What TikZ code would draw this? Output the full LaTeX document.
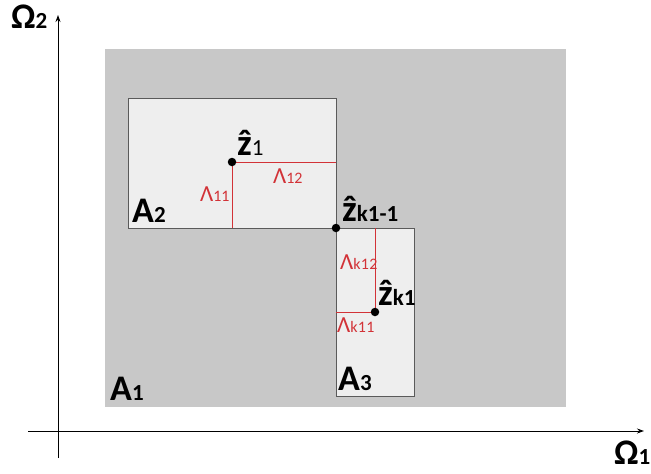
\documentclass[tikz,border=0pt]{standalone}
\usepackage{fontspec}
\setmainfont{Carlito}
\usetikzlibrary{arrows.meta}
\definecolor{bgray}{RGB}{200,200,200}
\definecolor{lgray}{RGB}{238,238,238}
\definecolor{edgec}{RGB}{90,90,90}
\definecolor{lred}{RGB}{210,50,55}
\tikzset{
  axis/.style={line width=0.9pt,black,-{Stealth[length=7pt,width=5pt]}},
  region/.style={draw=edgec,line width=0.7pt,fill=lgray},
  redline/.style={draw=lred,line width=0.8pt},
  dotpt/.style={circle,fill=black,inner sep=0pt,minimum size=8.5pt},
  biglab/.style={anchor=base west,inner sep=0pt,font=\fontsize{36}{38}\selectfont\bfseries},
  zlab/.style={anchor=base west,inner sep=0pt,font=\fontsize{37}{38}\selectfont\bfseries},
  lamlab/.style={anchor=base west,inner sep=0pt,text=lred,font=\fontsize{23}{24}\selectfont},
}
\newcommand{\sbig}[1]{{\fontsize{23}{24}\selectfont #1}}
\newcommand{\slam}[1]{{\fontsize{16}{17}\selectfont #1}}
\begin{document}
\begin{tikzpicture}[x=1pt,y=-1pt]
\useasboundingbox (0,0) rectangle (651,474);
% background region A1
\fill[bgray] (105,49) rectangle (566,407);
% axes
\coordinate (yb) at (58,458);
\coordinate (yt) at (58,15);
\coordinate (xl) at (28,431);
\coordinate (xr) at (644,431);
\draw[axis] (yb) -- (yt);
\draw[axis] (xl) -- (xr);
% regions
\draw[region] (128,98) rectangle (336,228);
\draw[region] (336,228) rectangle (414,396);
% points
\coordinate (z1) at (232,162);
\coordinate (zk) at (336,228);
\coordinate (zk1) at (375,312);
\coordinate (z1b) at (232,228);
\coordinate (z1r) at (336,162);
\coordinate (zk1t) at (375,228);
\coordinate (zk1l) at (336,312);
\draw[redline] (z1) -- (z1b);
\draw[redline] (z1) -- (z1r);
\draw[redline] (zk1) -- (zk1t);
\draw[redline] (zk1) -- (zk1l);
\node[dotpt] (p1) at (z1) {};
\node[dotpt] (p2) at (zk) {};
\node[dotpt] (p3) at (zk1) {};
% labels
\node[biglab] (om2) at (11,28) {Ω\sbig{2}};
\node[biglab] (om1) at (614,464) {Ω\sbig{1}};
\node[biglab] (a1) at (110,400) {A\sbig{1}};
\node[biglab] (a2) at (132,222) {A\sbig{2}};
\node[biglab] (a3) at (338,390) {A\sbig{3}};
\node[zlab] (lz1) at (237,155) {ẑ{\fontsize{23}{24}\selectfont\mdseries 1}};
\node[zlab] (lzk) at (342,221) {ẑ{\fontsize{23}{24}\selectfont k1-1}};
\node[zlab] (lzk1) at (378,305) {ẑ{\fontsize{23}{24}\selectfont k1}};
\node[lamlab] (l11) at (200,201) {Λ\slam{11}};
\node[lamlab] (l12) at (273,183) {Λ\slam{12}};
\node[lamlab] (lk2) at (340,269) {Λ\slam{k\kern0.3pt1\kern0.3pt2}};
\node[lamlab] (lk1) at (337,332) {Λ\slam{k\kern0.3pt1\kern0.3pt1}};
\end{tikzpicture}
\end{document}
